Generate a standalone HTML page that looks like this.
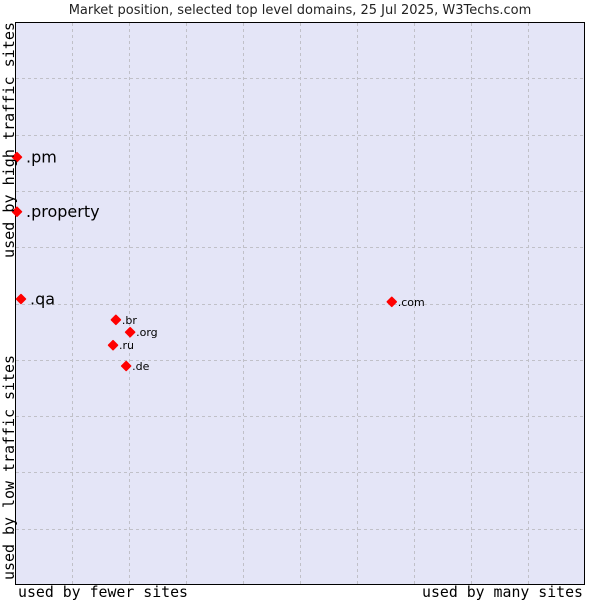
<!DOCTYPE html>
<html><head><meta charset="utf-8"><style>
body{margin:0;background:#fff;}
svg{display:block;}
</style></head><body>
<svg id="chart" width="600" height="600" xmlns="http://www.w3.org/2000/svg">
<text x="300" y="14" text-anchor="middle" font-family="DejaVu Sans, sans-serif" font-size="13" fill="#222">Market position, selected top level domains, 25 Jul 2025, W3Techs.com</text>
<rect x="15.5" y="22.5" width="569" height="562" fill="#e4e5f7" stroke="#000" stroke-width="1"/>
<g id="grid"></g>
<g id="points"></g>
<text x="18" y="597" textLength="170" lengthAdjust="spacingAndGlyphs" font-family="DejaVu Sans Mono, monospace" font-size="15" fill="#000">used by fewer sites</text>
<text x="422" y="597" textLength="161" lengthAdjust="spacingAndGlyphs" font-family="DejaVu Sans Mono, monospace" font-size="15" fill="#000">used by many sites</text>
<text transform="translate(14,258) rotate(-90)" textLength="236" lengthAdjust="spacingAndGlyphs" font-family="DejaVu Sans Mono, monospace" font-size="15" fill="#000">used by high traffic sites</text>
<text transform="translate(14,580) rotate(-90)" textLength="225" lengthAdjust="spacingAndGlyphs" font-family="DejaVu Sans Mono, monospace" font-size="15" fill="#000">used by low traffic sites</text>
</svg>
<script>
const labels = [".pm", ".property", ".qa", ".com", ".br", ".org", ".ru", ".de"];
const xValues = [0.35, 0.35, 1.05, 66.1, 17.7, 20.2, 17.2, 19.5];
const yValues = [76.0, 66.3, 50.8, 50.3, 47.1, 44.9, 42.6, 38.9];
const bigLabel = [true, true, true, false, false, false, false, false];
const ns = "http://www.w3.org/2000/svg";
const X0 = 15, X1 = 585, Y0 = 585, Y1 = 22;
function sx(v){return X0 + (X1 - X0) * v / 100;}
function sy(v){return Y0 - (Y0 - Y1) * v / 100;}
const grid = document.getElementById('grid');
for (let i = 1; i < 10; i++) {
  const gx = Math.round(sx(i*10)) + 0.5;
  const lx = document.createElementNS(ns, 'line');
  lx.setAttribute('x1', gx); lx.setAttribute('x2', gx);
  lx.setAttribute('y1', Y1 + 1); lx.setAttribute('y2', Y0);
  lx.setAttribute('stroke', '#c0c0c8'); lx.setAttribute('stroke-dasharray', '3,3');
  
  
  grid.appendChild(lx);
  const gy = Math.round(sy(i*10)) + 0.5;
  const ly = document.createElementNS(ns, 'line');
  ly.setAttribute('x1', X0 + 1); ly.setAttribute('x2', X1);
  ly.setAttribute('y1', gy); ly.setAttribute('y2', gy);
  ly.setAttribute('stroke', '#c0c0c8'); ly.setAttribute('stroke-dasharray', '3,3');
  
  
  grid.appendChild(ly);
}
const pts = document.getElementById('points');
for (let i = 0; i < labels.length; i++) {
  const px = sx(xValues[i]), py = sy(yValues[i]);
  const d = document.createElementNS(ns, 'path');
  d.setAttribute('d', `M${px-4.5},${py} L${px},${py-4.5} L${px+4.5},${py} L${px},${py+4.5} Z`);
  d.setAttribute('fill', '#f00');
  d.setAttribute('stroke', '#f00');
  d.setAttribute('stroke-linejoin', 'round');
  d.setAttribute('stroke-width', '1.5');
  
  
  pts.appendChild(d);
  const t = document.createElementNS(ns, 'text');
  const big = bigLabel[i];
  t.setAttribute('x', px + (big ? 9 : 6));
  t.setAttribute('y', py + (big ? 5.5 : 4));
  t.setAttribute('font-family', 'DejaVu Sans, sans-serif');
  t.setAttribute('font-size', big ? '16' : '11');
  t.setAttribute('fill', '#000');
  t.textContent = labels[i];
  
  
  pts.appendChild(t);
}
</script>
</body></html>
